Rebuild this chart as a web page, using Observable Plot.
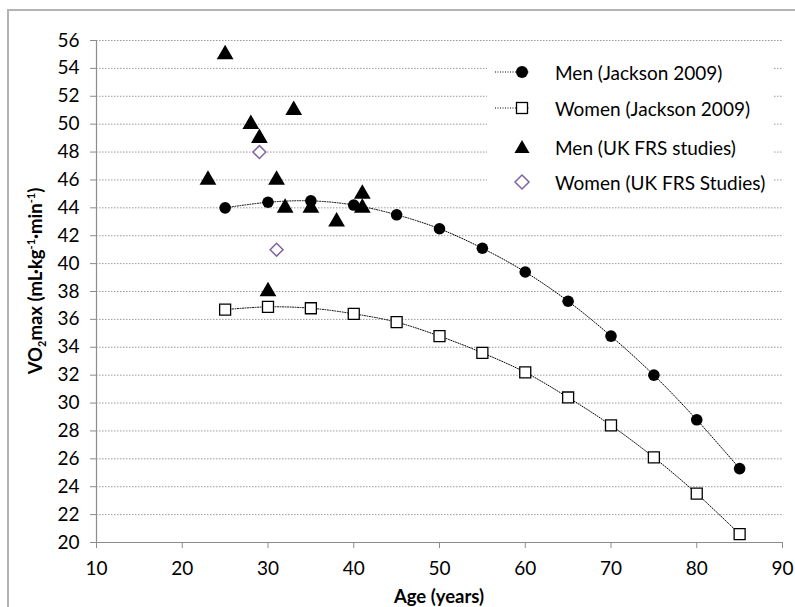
<!DOCTYPE html>
<html>
<head>
<meta charset="utf-8">
<script src="https://cdn.jsdelivr.net/npm/d3@7"></script>
<script src="https://cdn.jsdelivr.net/npm/@observablehq/plot@0.6"></script>
<style>
  html, body { margin: 0; padding: 0; background: #fff; }
  #wrap { position: relative; width: 795px; height: 607px; overflow: hidden; font-family: Lato, "Open Sans", sans-serif; }
  #frame { position: absolute; left: 7px; top: 9px; width: 820px; height: 640px; border: 2px solid #b3b3b3; box-sizing: border-box; }
  #chart { position: absolute; left: 0; top: 0; }
  #chart svg text { font-size: 19px; }
  #ytitle { position: absolute; left: 36px; top: 281px; transform: translate(-50%, -50%) rotate(-90deg); white-space: nowrap; font-weight: bold; font-size: 18.5px; }
  #ytitle sub, #ytitle sup { font-size: 11px; }
  #xtitle { position: absolute; left: 439px; top: 596px; transform: translate(-50%, -50%); white-space: nowrap; font-weight: bold; font-size: 18.5px; }
  #legend { position: absolute; left: 487px; top: 52px; width: 286px; height: 148px; background: #fff; }
  .lrow { position: absolute; left: 0; height: 20px; display: flex; align-items: center; font-size: 19px; white-space: nowrap; }
  .lrow svg { flex: none; }
  .lrow span { position: absolute; left: 68px; top: 50%; transform: translateY(-50%); }
</style>
</head>
<body>
<div id="wrap">
  <div id="frame"></div>
  <div id="chart"></div>
  <div id="ytitle">VO<sub>2</sub>max (mL·kg<sup>-1</sup>·min<sup>-1</sup>)</div>
  <div id="xtitle">Age (years)</div>
  <div id="legend"></div>
</div>
<script>
// Jackson 2009 norms by age
const ages = [25, 30, 35, 40, 45, 50, 55, 60, 65, 70, 75, 80, 85];
const menJackson = [44.0, 44.4, 44.5, 44.2, 43.5, 42.5, 41.1, 39.4, 37.3, 34.8, 32.0, 28.8, 25.3];
const womenJackson = [36.7, 36.9, 36.8, 36.4, 35.8, 34.8, 33.6, 32.2, 30.4, 28.4, 26.1, 23.5, 20.6];

// UK FRS studies
const ukMenAge = [25, 23, 28, 29, 33, 31, 30, 32, 35, 38, 41, 41];
const ukMenVO2 = [55, 46, 50, 49, 51, 46, 38, 44, 44, 43, 45, 44];
const ukWomenAge = [29, 31];
const ukWomenVO2 = [48, 41];

// Axis ticks
const xTicks = [10, 20, 30, 40, 50, 60, 70, 80, 90];
const yTicks = [20, 22, 24, 26, 28, 30, 32, 34, 36, 38, 40, 42, 44, 46, 48, 50, 52, 54, 56];

// Legend labels
const legendLabels = ["Men (Jackson 2009)", "Women (Jackson 2009)", "Men (UK FRS studies)", "Women (UK FRS Studies)"];

const menJ = ages.map((a, i) => ({age: a, v: menJackson[i]}));
const womenJ = ages.map((a, i) => ({age: a, v: womenJackson[i]}));
const ukMen = ukMenAge.map((a, i) => ({age: a, v: ukMenVO2[i]}));
const ukWomen = ukWomenAge.map((a, i) => ({age: a, v: ukWomenVO2[i]}));

const purple = "#8064a2";

const chart = Plot.plot({
  width: 795,
  height: 607,
  marginLeft: 96,
  marginRight: 13,
  marginTop: 40,
  marginBottom: 65,
  style: {fontFamily: "Lato, 'Open Sans', sans-serif", fontSize: "19px", color: "#000", background: "transparent"},
  x: {domain: [10, 90], label: null},
  y: {domain: [20, 56], label: null},
  marks: [
    Plot.gridY(yTicks.filter(d => d > 20), {stroke: "#999", strokeOpacity: 1, strokeDasharray: "1.5,1.5"}),
    Plot.ruleY([20], {stroke: "#8c8c8c", strokeWidth: 1.2}),
    Plot.ruleX([10], {stroke: "#8c8c8c", strokeWidth: 1.2}),
    Plot.axisY(yTicks, {tickSize: 6, tickPadding: 11, stroke: "#8c8c8c", fill: "#000", fontSize: 19}),
    Plot.axisX(xTicks, {tickSize: 6, tickPadding: 13, stroke: "#8c8c8c", fill: "#000", fontSize: 19}),
    Plot.line(menJ, {x: "age", y: "v", curve: "catmull-rom", stroke: "#000", strokeWidth: 1, strokeDasharray: "1,1.5"}),
    Plot.line(womenJ, {x: "age", y: "v", curve: "catmull-rom", stroke: "#000", strokeWidth: 1, strokeDasharray: "1,1.5"}),
    Plot.dot(menJ, {x: "age", y: "v", r: 5.8, fill: "#000", stroke: "none"}),
    Plot.dot(womenJ, {x: "age", y: "v", symbol: "square", r: 6.2, fill: "#fff", stroke: "#000", strokeWidth: 1.3}),
    Plot.dot(ukMen, {x: "age", y: "v", symbol: "triangle2", r: 8, fill: "#000", stroke: "none"}),
    Plot.dot(ukWomen, {x: "age", y: "v", symbol: "diamond2", r: 5.8, fill: "#fff", stroke: purple, strokeWidth: 1.5})
  ]
});
document.getElementById("chart").appendChild(chart);

// Legend (HTML)
const legend = d3.select("#legend");
const rowsY = [19.7, 56.3, 95.3, 129.7];
const sym = [
  {type: "circle", line: true},
  {type: "square", line: true},
  {type: "triangle", line: false},
  {type: "diamond", line: false}
];
legendLabels.forEach((lab, i) => {
  const row = legend.append("div").attr("class", "lrow").style("top", (rowsY[i] - 10) + "px").style("width", "286px");
  const s = row.append("svg").attr("width", 60).attr("height", 20);
  const cx = 35, cy = 10;
  if (sym[i].line) {
    s.append("line").attr("x1", 8).attr("x2", 43).attr("y1", cy).attr("y2", cy)
      .attr("stroke", "#000").attr("stroke-width", 1).attr("stroke-dasharray", "1,1.5");
  }
  const t = sym[i].type;
  if (t === "circle") s.append("circle").attr("cx", cx).attr("cy", cy).attr("r", 6).attr("fill", "#000");
  if (t === "square") s.append("rect").attr("x", cx - 5.5).attr("y", cy - 5.5).attr("width", 11).attr("height", 11).attr("fill", "#fff").attr("stroke", "#000").attr("stroke-width", 1.3);
  if (t === "triangle") s.append("path").attr("d", `M${cx},${cy - 7}L${cx + 7.5},${cy + 6}L${cx - 7.5},${cy + 6}Z`).attr("fill", "#000");
  if (t === "diamond") s.append("path").attr("d", `M${cx},${cy - 7}L${cx + 7},${cy}L${cx},${cy + 7}L${cx - 7},${cy}Z`).attr("fill", "#fff").attr("stroke", purple).attr("stroke-width", 1.5);
  row.append("span").text(lab);
});
</script>
</body>
</html>
